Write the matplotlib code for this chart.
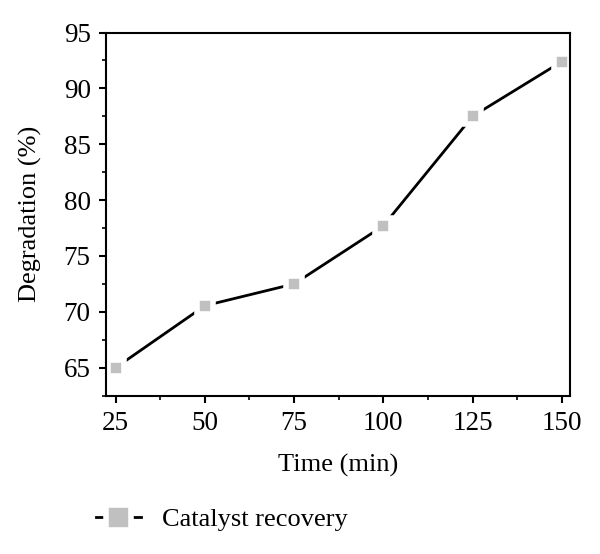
import matplotlib
matplotlib.use("Agg")
import matplotlib.pyplot as plt
from matplotlib.ticker import MultipleLocator

time_min = [25, 50, 75, 100, 125, 150]
degradation = [65.0, 70.55, 72.5, 77.7, 87.5, 92.4]
series_label = "Catalyst recovery"
x_ticks = [25, 50, 75, 100, 125, 150]
y_ticks = [65, 70, 75, 80, 85, 90, 95]

plt.rcParams['font.family'] = ['Liberation Serif', 'DejaVu Serif']

fig = plt.figure(figsize=(6.0, 5.54), dpi=100)
ax = fig.add_axes([106/600, 1-396/554, (570-106)/600, (396-32.5)/554])

line, = ax.plot(time_min, degradation, color='black', lw=2.0,
                marker='s', markersize=12, markerfacecolor='#c0c0c0',
                markeredgecolor='white', markeredgewidth=4.0,
                label=series_label)

ax.set_xlim(22.3, 152.3)
ax.set_ylim(62.47, 95)
ax.set_xticks(x_ticks)
ax.set_yticks(y_ticks)
ax.xaxis.set_minor_locator(MultipleLocator(12.5))
ax.yaxis.set_minor_locator(MultipleLocator(2.5))
ax.tick_params(axis='both', which='major', direction='out', length=5, width=1.5,
               labelsize=19.5, pad=6, top=False, right=False)
ax.tick_params(axis='both', which='minor', direction='out', length=3, width=1.2,
               top=False, right=False)
for s in ax.spines.values():
    s.set_linewidth(1.5)

ax.set_xlabel("Time (min)", fontsize=19, labelpad=13)
ax.set_ylabel("Degradation (%)", fontsize=19, labelpad=16)

fig.legend(handles=[line], labels=[series_label], loc='center left',
           bbox_to_anchor=(72/600, 1-519/554), frameon=False, fontsize=19,
           handlelength=1.7, handletextpad=0.8, markerscale=1.5)

fig.savefig("out.png", dpi=100)
